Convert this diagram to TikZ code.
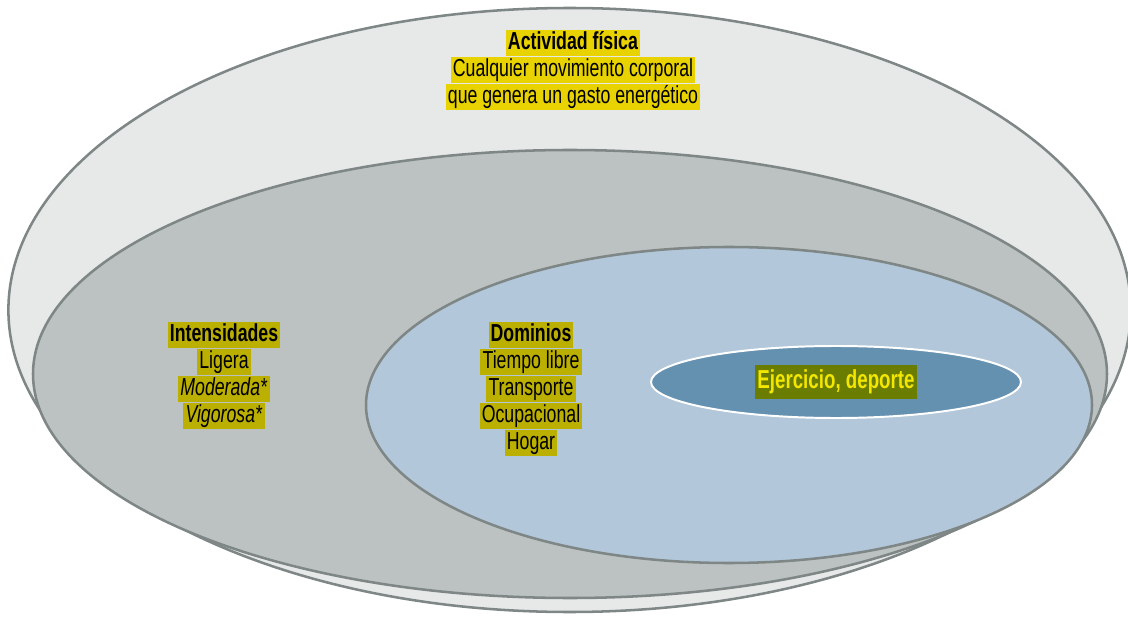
\documentclass[tikz,border=0pt]{standalone}
\usepackage{fontspec}
\setmainfont[FakeStretch=0.72]{Liberation Sans}
\usepackage{tikz}
\usetikzlibrary{positioning}

\definecolor{outerfill}{HTML}{E7E9E9}
\definecolor{midfill}{HTML}{BCC2C2}
\definecolor{innerfill}{HTML}{B2C8DA}
\definecolor{sportfill}{HTML}{6591B1}
\definecolor{rimgray}{HTML}{7F8686}
\definecolor{titleyellow}{HTML}{E8D200}
\definecolor{olivebox}{HTML}{BBAF00}
\definecolor{darkolive}{HTML}{6B7D00}
\definecolor{sportyellow}{HTML}{F3E600}

\tikzset{
  hlyellow/.style={fill=titleyellow,inner xsep=1.5pt,inner ysep=0pt,
    text height=13.8pt,text depth=5pt,font=\fontsize{17.5}{19}\selectfont},
  hlolive/.style={hlyellow,fill=olivebox},
  rim/.style={draw=rimgray,line width=1.8pt}
}

\begin{document}
\begin{tikzpicture}
      \useasboundingbox (0,0) rectangle (28.2,15.55);
      \filldraw[rim,fill=outerfill] (14.24,7.8) ellipse (14.03cm and 7.55cm);
      \filldraw[rim,fill=midfill] (14.25,6.2) ellipse (13.425cm and 5.6cm);
      \filldraw[rim,fill=innerfill] (18.225,5.425) ellipse (9.075cm and 3.95cm);
      \filldraw[draw=white,line width=1.4pt,fill=sportfill] (20.9,6.0) ellipse (4.625cm and 0.9cm);

      \node[hlyellow] (act) at (14.325,14.475) {\textbf{Actividad física}};
      \node[hlyellow,below=0pt of act] (def1) {Cualquier movimiento corporal};
      \node[hlyellow,below=0pt of def1] (def2) {que genera un gasto energético};

      \node[hlolive] (int) at (5.6,7.175) {\textbf{Intensidades}};
      \node[hlolive,below=0pt of int] (lig) {Ligera};
      \node[hlolive,below=0pt of lig] (mod) {\textit{Moderada*}};
      \node[hlolive,below=0pt of mod] (vig) {\textit{Vigorosa*}};

      \node[hlolive] (dom) at (13.275,7.175) {\textbf{Dominios}};
      \node[hlolive,below=0pt of dom] (tie) {Tiempo libre};
      \node[hlolive,below=0pt of tie] (tra) {Transporte};
      \node[hlolive,below=0pt of tra] (ocu) {Ocupacional};
      \node[hlolive,below=0pt of ocu] (hog) {Hogar};

      \node[fill=darkolive,text=sportyellow,inner xsep=2pt,minimum height=0.85cm,
        font=\fontsize{18.5}{20}\selectfont\bfseries] (eje) at (20.9,6.0) {Ejercicio, deporte};
\end{tikzpicture}
\end{document}
